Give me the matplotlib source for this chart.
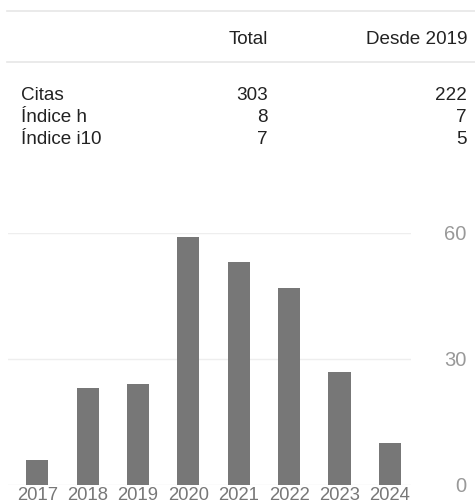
import matplotlib
matplotlib.use("Agg")
import matplotlib.pyplot as plt
from matplotlib.lines import Line2D

# datos de la tabla
row_labels = ["Citas", "Índice h", "Índice i10"]
col_headers = ["Total", "Desde 2019"]
total_vals = ["303", "8", "7"]
since_vals = ["222", "7", "5"]

# citas por año
years = ["2017", "2018", "2019", "2020", "2021", "2022", "2023", "2024"]
citations = [6, 23, 24, 59, 53, 47, 27, 10]
y_ticks = [0, 30, 60]

W, H = 475, 503
plt.rcParams["font.family"] = ["Liberation Sans", "DejaVu Sans"]

fig = plt.figure(figsize=(W / 100, H / 100), dpi=100)
fig.patch.set_facecolor("white")


def fx(px):
    return px / W


def fy(py):
    return 1 - py / H


# lineas de la tabla
for yy in [11, 62]:
    fig.add_artist(Line2D([fx(7), 1], [fy(yy), fy(yy)], color="#e6e6e6", lw=1.2))

txt_color = "#222222"
fs = 13.6
fig.text(fx(268), fy(40), col_headers[0], ha="right", va="center", fontsize=fs, color=txt_color)
fig.text(fx(467), fy(40), col_headers[1], ha="right", va="center", fontsize=fs, color=txt_color)

row_y = [95, 117, 139]
for lab, a, b, yy in zip(row_labels, total_vals, since_vals, row_y):
    fig.text(fx(21), fy(yy), lab, ha="left", va="center", fontsize=fs, color=txt_color)
    fig.text(fx(268), fy(yy), a, ha="right", va="center", fontsize=fs, color=txt_color)
    fig.text(fx(467), fy(yy), b, ha="right", va="center", fontsize=fs, color=txt_color)

# grafico de barras
left, right, top, bottom = 8, 411, 233, 485
ax = fig.add_axes([fx(left), fy(bottom), (right - left) / W, (bottom - top) / H])
x = list(range(len(years)))
ax.bar(x, citations, width=0.44, color="#777777", zorder=2)
ax.set_xlim(-0.58, 7.42)
ax.set_ylim(0, 60)

for s in ax.spines.values():
    s.set_visible(False)
ax.set_yticks(y_ticks)
ax.yaxis.tick_right()
ax.grid(axis="y", color="#eeeeee", lw=1, zorder=0)
ax.tick_params(axis="y", length=0, pad=40, labelsize=14.5, labelcolor="#999999")
for t in ax.get_yticklabels():
    t.set_horizontalalignment("right")
ax.set_xticks(x)
ax.set_xticklabels(years)
ax.tick_params(axis="x", length=0, pad=1.5, labelsize=13.3, labelcolor="#777777")

fig.savefig("out.png", dpi=100, facecolor="white")
